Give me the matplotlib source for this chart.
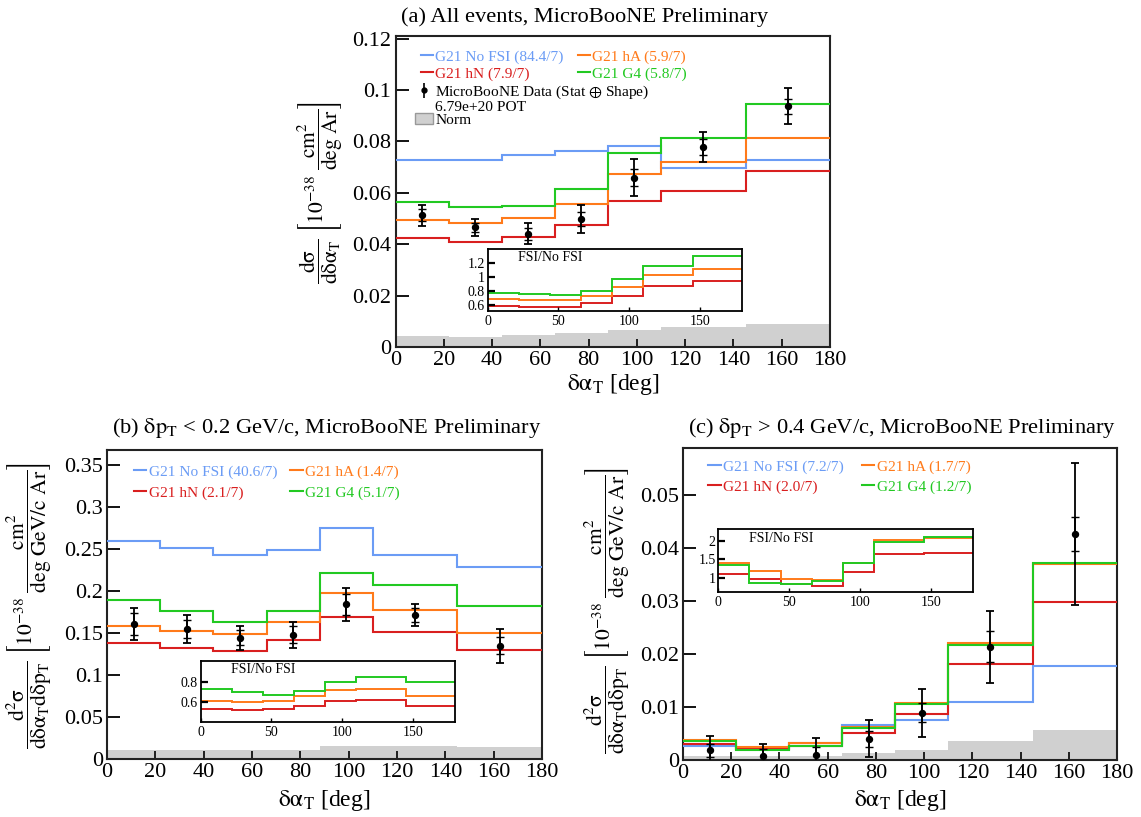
"""
Differential cross section in delta-alpha_T: all events and two delta-p_T
slices, with GENIE FSI variations and FSI/No-FSI ratio insets.
"""

import numpy as np
import matplotlib
matplotlib.use('Agg')
import matplotlib.pyplot as plt
from matplotlib.lines import Line2D
from matplotlib.patches import Patch
from matplotlib.ticker import FuncFormatter

plt.rcParams['font.family'] = ['Liberation Serif', 'DejaVu Serif']
plt.rcParams['mathtext.fontset'] = 'stix'

W, H = 1141, 817

edges = [0, 22, 44, 66, 88, 110, 145, 180]
centers = [11, 33, 55, 77, 99, 127.5, 162.5]

# (a) all events
a_nofsi = [0.0727, 0.0727, 0.0747, 0.0763, 0.0782, 0.0698, 0.0727]
a_hn = [0.0423, 0.0410, 0.0428, 0.0476, 0.0568, 0.0607, 0.0686]
a_ha = [0.0494, 0.0483, 0.0501, 0.0558, 0.0673, 0.0721, 0.0815]
a_g4 = [0.0563, 0.0545, 0.0550, 0.0614, 0.0756, 0.0813, 0.0945]
a_data = [0.0513, 0.0466, 0.0441, 0.0498, 0.0659, 0.0779, 0.0937]
a_err = [0.0040, 0.0033, 0.0041, 0.0055, 0.0072, 0.0058, 0.0069]
a_stat = [0.0023, 0.0018, 0.0022, 0.0028, 0.0033, 0.0030, 0.0030]
a_norm = [0.0044, 0.0040, 0.0048, 0.0057, 0.0067, 0.0080, 0.0090]
a_chi2 = ["84.4/7", "7.9/7", "5.9/7", "5.8/7"]

# (b) delta p_T < 0.2 GeV/c
b_nofsi = [0.2590, 0.2512, 0.2432, 0.2484, 0.2754, 0.2432, 0.2280]
b_hn = [0.1382, 0.1322, 0.1290, 0.1410, 0.1692, 0.1513, 0.1295]
b_ha = [0.1581, 0.1525, 0.1489, 0.1636, 0.1975, 0.1776, 0.1505]
b_g4 = [0.1887, 0.1760, 0.1629, 0.1764, 0.2209, 0.2070, 0.1815]
b_data = [0.1605, 0.1549, 0.1445, 0.1477, 0.1839, 0.1716, 0.1346]
b_err = [0.0190, 0.0167, 0.0143, 0.0153, 0.0195, 0.0130, 0.0203]
b_stat = [0.0130, 0.0110, 0.0090, 0.0100, 0.0120, 0.0080, 0.0100]
b_norm = [0.0105, 0.0105, 0.0105, 0.0105, 0.0147, 0.0147, 0.0143]
b_chi2 = ["40.6/7", "2.1/7", "1.4/7", "5.1/7"]

# (c) delta p_T > 0.4 GeV/c
c_nofsi = [0.0027, 0.0021, 0.0033, 0.0067, 0.0076, 0.0110, 0.0178]
c_hn = [0.0030, 0.0020, 0.0027, 0.0051, 0.0087, 0.0181, 0.0298]
c_ha = [0.0038, 0.0025, 0.0032, 0.0062, 0.0107, 0.0222, 0.0370]
c_g4 = [0.0036, 0.0018, 0.0027, 0.0061, 0.0106, 0.0218, 0.0373]
c_data = [0.0018, 0.0008, 0.0010, 0.0040, 0.0089, 0.0214, 0.0427]
c_err = [0.0027, 0.0023, 0.0032, 0.0035, 0.0045, 0.0068, 0.0135]
c_stat = [0.0012, 0.0012, 0.0014, 0.0015, 0.0018, 0.0029, 0.0033]
c_norm = [0.0007, 0.0007, 0.0007, 0.0014, 0.0019, 0.0035, 0.0057]
c_chi2 = ["7.2/7", "2.0/7", "1.7/7", "1.2/7"]

MODELS = ["No FSI", "hN", "hA", "G4"]
COLORS = ["#6b9cf5", "#d91f1f", "#ff7a1a", "#22c922"]
NORM_COLOR = "#d0d0d0"


def px_rect(left, top, right, bottom):
    return [left / W, 1 - bottom / H, (right - left) / W, (bottom - top) / H]


def fmt_g(v, pos):
    return "%g" % round(v, 6)


def style_main(ax, yticks, ylim):
    ax.set_xlim(0, 180)
    ax.set_ylim(*ylim)
    ax.set_xticks(np.arange(0, 181, 20))
    ax.set_yticks(yticks)
    ax.yaxis.set_major_formatter(FuncFormatter(fmt_g))
    ax.tick_params(axis='y', direction='in', length=9, width=1.3, pad=3,
                   labelsize=16)
    ax.tick_params(axis='x', direction='in', length=6, width=1.2, pad=3,
                   labelsize=16)
    for s in ax.spines.values():
        s.set_linewidth(1.5)
        s.set_color('#222222')


def style_inset(ax, yticks, ylim):
    ax.set_xlim(0, 180)
    ax.set_ylim(*ylim)
    ax.set_xticks([0, 50, 100, 150])
    ax.set_yticks(yticks)
    ax.yaxis.set_major_formatter(FuncFormatter(fmt_g))
    ax.tick_params(axis='y', direction='in', length=5, width=1.6, pad=2,
                   labelsize=10)
    ax.tick_params(axis='x', direction='in', length=3, width=1.0, pad=3,
                   labelsize=10)
    for s in ax.spines.values():
        s.set_linewidth(1.3)
    ax.text(0.12, 0.86, "FSI/No FSI", transform=ax.transAxes, fontsize=10,
            va='center', ha='left')


def draw_panel(ax, inset, models, data, err, stat, norm, chi2,
               leg_anchor, leg_spacing, col_spacing):
    ax.stairs(norm, edges, fill=True, color=NORM_COLOR, zorder=1)
    lines = []
    for vals, col, name, c2 in zip(models, COLORS, MODELS, chi2):
        ax.stairs(vals, edges, baseline=None, color=col, lw=1.5, zorder=3)
        lines.append(Line2D([], [], color=col, lw=1.5,
                            label="G21 %s (%s)" % (name, c2)))
    ax.errorbar(centers, data, yerr=err, fmt='o', color='black', ms=4.3,
                elinewidth=1.3, capsize=3, capthick=1.3, zorder=5)
    ax.errorbar(centers, data, yerr=stat, fmt='none', ecolor='black',
                elinewidth=1.3, capsize=3, capthick=1.0, zorder=5)

    leg = ax.legend(handles=lines, ncol=2, loc='upper left',
                    bbox_to_anchor=leg_anchor, frameon=False, fontsize=11.1,
                    handlelength=0.8, handletextpad=0.15,
                    columnspacing=col_spacing, labelspacing=leg_spacing,
                    borderpad=0, borderaxespad=0, labelcolor='linecolor')

    nofsi = np.array(models[0])
    for vals, col in zip(models[1:], COLORS[1:]):
        inset.stairs(np.array(vals) / nofsi, edges, baseline=None,
                     color=col, lw=1.4)
    return leg


fig = plt.figure(figsize=(W / 100, H / 100), dpi=100)

ax_a = fig.add_axes(px_rect(395.5, 36, 830, 347.3))
in_a = fig.add_axes(px_rect(487.7, 249.3, 742.3, 310.7))
ax_b = fig.add_axes(px_rect(107, 450, 542, 758.8))
in_b = fig.add_axes(px_rect(200.7, 661.3, 455, 722))
ax_c = fig.add_axes(px_rect(683, 448.3, 1117, 760))
in_c = fig.add_axes(px_rect(718.3, 529.3, 973.3, 591.7))

leg_a = draw_panel(ax_a, in_a, [a_nofsi, a_hn, a_ha, a_g4], a_data, a_err,
                   a_stat, a_norm, a_chi2, (0.058, 0.956), 0.2, 0.9)
draw_panel(ax_b, in_b, [b_nofsi, b_hn, b_ha, b_g4], b_data, b_err, b_stat,
           b_norm, b_chi2, (0.062, 0.952), 0.45, 0.85)
draw_panel(ax_c, in_c, [c_nofsi, c_hn, c_ha, c_g4], c_data, c_err, c_stat,
           c_norm, c_chi2, (0.058, 0.963), 0.38, 1.2)

# data / norm entries of panel (a)
ax_a.add_artist(leg_a)
data_h = ax_a.errorbar([], [], yerr=[], fmt='o', color='black', ms=3.5,
                       elinewidth=1.2, capsize=2.5)
blank_h = Line2D([], [], color='none')
norm_h = Patch(facecolor=NORM_COLOR, edgecolor='#999999', lw=1.0)
ax_a.legend([data_h, blank_h, norm_h],
            ["MicroBooNE Data (Stat $\\oplus$ Shape)", "6.79e+20 POT", "Norm"],
            loc='upper left', bbox_to_anchor=(0.045, 0.847), frameon=False,
            fontsize=11.1, handlelength=1.17, handletextpad=0.15,
            labelspacing=-0.05, borderpad=0, borderaxespad=0)

style_main(ax_a, np.arange(0, 0.121, 0.02), (0, 0.121))
style_main(ax_b, np.arange(0, 0.351, 0.05), (0, 0.368))
style_main(ax_c, np.arange(0, 0.051, 0.01), (0, 0.0589))
style_inset(in_a, [0.6, 0.8, 1.0, 1.2], (0.513, 1.403))
style_inset(in_b, [0.6, 0.8], (0.407, 1.003))
style_inset(in_c, [1.0, 1.5, 2.0], (0.618, 2.318))

xlab = r"$\mathrm{\delta\alpha_{T}}$ [deg]"
ylab_a = (r"$\dfrac{\mathrm{d\sigma}}{\mathrm{d\delta\alpha_{T}}}\ "
          r"\left[\mathrm{10^{-38}}\ \dfrac{\mathrm{cm^{2}}}{\mathrm{deg\ Ar}}\right]$")
ylab_bc = (r"$\dfrac{\mathrm{d^{2}\sigma}}{\mathrm{d\delta\alpha_{T}d\delta p_{T}}}\ "
           r"\left[\mathrm{10^{-38}}\ \dfrac{\mathrm{cm^{2}}}{\mathrm{deg\ GeV/c\ Ar}}\right]$")

for ax, yl, xy_y, xy_x in [(ax_a, ylab_a, (-0.174, 0.497), -0.079),
                           (ax_b, ylab_bc, (-0.179, 0.495), -0.095),
                           (ax_c, ylab_bc, (-0.174, 0.481), -0.090)]:
    ax.set_xlabel(xlab, fontsize=17)
    ax.xaxis.set_label_coords(0.5, xy_x)
    ax.set_ylabel(yl, fontsize=15.5)
    ax.yaxis.label.set(va='center', ha='center', rotation_mode='anchor')
    ax.yaxis.set_label_coords(*xy_y)

fig.text(585 / W, 1 - 22 / H, "(a) All events, MicroBooNE Preliminary",
         ha='center', va='baseline', fontsize=16.2)
fig.text(327 / W, 1 - 433 / H,
         r"(b) $\mathrm{\delta p_{T}}$ < 0.2 GeV/c, MicroBooNE Preliminary",
         ha='center', va='baseline', fontsize=16.2)
fig.text(902 / W, 1 - 433 / H,
         r"(c) $\mathrm{\delta p_{T}}$ > 0.4 GeV/c, MicroBooNE Preliminary",
         ha='center', va='baseline', fontsize=16.2)

fig.savefig("out.png", dpi=100)
